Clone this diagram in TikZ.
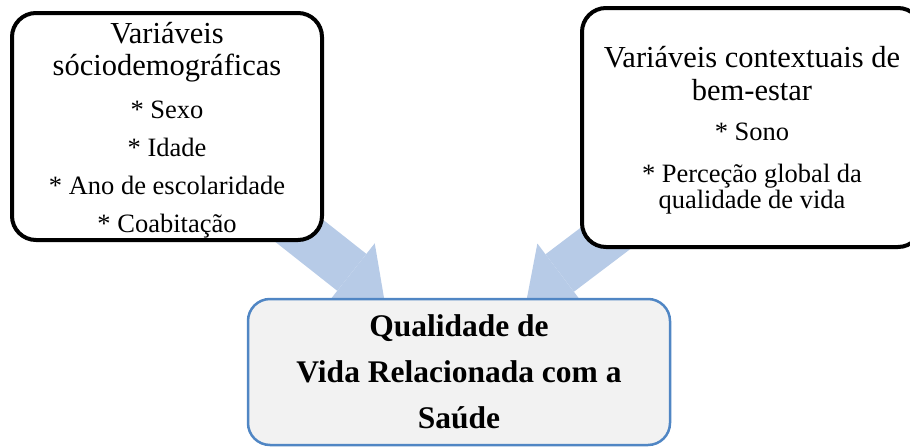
\documentclass[tikz,border=0pt]{standalone}
\usepackage{fontspec}
\setmainfont{Liberation Serif}
\usetikzlibrary{arrows.meta,backgrounds}

\definecolor{arrowblue}{RGB}{183,203,231}
\definecolor{qborder}{RGB}{80,134,196}
\definecolor{qfill}{RGB}{242,242,242}

\newcommand{\titlefont}{\fontsize{30.5}{32}\selectfont}

\tikzset{
	varbox/.style={draw, line width=4pt, rounded corners=24pt, fill=white, inner sep=0pt, align=center},
	qbox/.style={draw=qborder, line width=2.5pt, rounded corners=22pt, fill=qfill, inner sep=0pt, align=center,
		font=\fontsize{31.5}{46}\selectfont\bfseries},
	bigarrow/.style={draw=arrowblue, line width=47pt, -{Triangle[length=41pt, width=74pt, line width=0pt]}}
}

\begin{document}
\begin{tikzpicture}[x=1pt, y=-1pt]
	\useasboundingbox (0, 0) rectangle (910, 447);
	% the three boxes
	\node (lvar) at (167, 126.5)	[varbox, minimum width=310pt, minimum height=227pt,
		font=\fontsize{26.5}{32}\selectfont]
		{\titlefont\rule{0pt}{28pt}Variáveis\\ \titlefont sóciodemográficas\\[11pt]
		 * Sexo\\[6pt] * Idade\\[6pt] * Ano de escolaridade\\[6pt] * Coabitação};
	\node (cvar) at (752, 127.5)	[varbox, minimum width=340pt, minimum height=239pt,
		font=\fontsize{26.5}{26}\selectfont]
		{\titlefont\rule{0pt}{26pt}Variáveis contextuais de\\[7pt] \titlefont bem-estar\\[14pt]
		 * Sono\\[16pt] * Perceção global da\\ qualidade de vida};
	\node (qvrs) at (459, 372)	[qbox, minimum width=422pt, minimum height=146pt]
		{Qualidade de\\ Vida Relacionada com a\\ Saúde};
	% arrow tips sit on the top border of the lower box
	\coordinate (ltip) at ([xshift=-75pt]qvrs.north);
	\coordinate (rtip) at ([xshift=68pt]qvrs.north);
	\begin{scope}[on background layer]
		\draw[bigarrow] (lvar.center) -- (ltip);
		\draw[bigarrow] (cvar.center) -- (rtip);
	\end{scope}
\end{tikzpicture}
\end{document}
